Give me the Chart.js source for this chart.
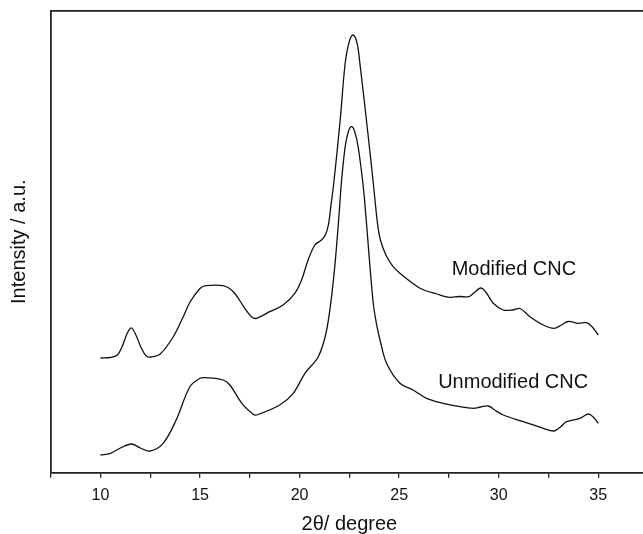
<!DOCTYPE html>
<html>
<head>
<meta charset="utf-8">
<script src="https://cdn.jsdelivr.net/npm/chart.js@4"></script>
<style>
  html, body { margin: 0; padding: 0; background: #fff; overflow: hidden; }
  #wrap { width: 643px; height: 534px; overflow: hidden; }
</style>
</head>
<body>
<div id="wrap">
  <canvas id="xrd" width="656" height="536"></canvas>
</div>
<script>
// 2theta positions and intensities (a.u.)
const modX = [10.0, 10.5, 10.85, 11.1, 11.35, 11.56, 11.8, 12.05, 12.3, 12.55, 13.0, 13.65, 14.15, 14.5, 15.0, 15.3, 16.15, 16.67, 17.25, 17.6, 17.84, 18.5, 19.17, 19.76, 20.1, 20.43, 20.77, 21.1, 21.3, 21.45, 21.58, 21.72, 22.04, 22.29, 22.48, 22.68, 22.88, 23.03, 23.45, 23.7, 23.88, 24.0, 24.15, 24.38, 24.7, 25.04, 26.05, 26.9, 27.55, 28.0, 28.5, 28.75, 29.1, 29.35, 29.73, 30.23, 30.7, 31.07, 31.57, 32.24, 32.78, 33.15, 33.5, 34.0, 34.42, 34.7, 35.0];
const modY = [114.7, 115.2, 117.7, 126.7, 139.7, 144.7, 136.7, 124.7, 116.7, 115.7, 118.7, 135.7, 155.7, 170.7, 184.2, 187.0, 187.0, 181.0, 164.4, 155.7, 154.4, 161.0, 167.7, 179.4, 192.7, 212.7, 227.7, 232.7, 238.0, 248.0, 268.0, 290.0, 352.7, 409.4, 430.0, 437.7, 430.0, 409.4, 336.0, 290.0, 255.0, 238.0, 227.0, 216.0, 206.0, 199.4, 184.4, 178.7, 175.4, 176.2, 176.0, 179.7, 184.7, 180.7, 169.4, 162.7, 162.7, 164.2, 156.0, 147.7, 144.4, 147.7, 151.2, 149.4, 150.0, 145.7, 137.7];

const unmodX = [10.0, 10.5, 11.0, 11.56, 12.0, 12.48, 13.15, 13.8, 14.49, 15.0, 15.25, 16.16, 16.5, 17.1, 17.67, 17.84, 19.0, 19.68, 20.27, 20.94, 21.36, 21.7, 21.95, 22.1, 22.29, 22.45, 22.61, 22.77, 22.94, 23.2, 23.35, 23.7, 23.9, 24.04, 24.37, 25.04, 25.7, 26.38, 27.22, 28.05, 28.72, 29.1, 29.48, 29.8, 30.23, 31.24, 32.24, 32.78, 33.1, 33.41, 34.08, 34.5, 34.75, 35.0];
const unmodY = [17.7, 19.4, 24.7, 28.7, 24.7, 21.7, 29.4, 52.7, 86.0, 94.4, 95.0, 92.7, 87.7, 69.4, 58.4, 57.7, 67.7, 79.4, 99.4, 116.0, 142.7, 192.7, 249.4, 290.0, 326.0, 341.0, 346.0, 341.0, 326.0, 286.0, 252.0, 169.4, 145.0, 132.7, 109.4, 89.4, 82.7, 74.4, 69.4, 66.0, 64.4, 65.7, 66.7, 62.7, 57.7, 51.0, 44.4, 41.7, 45.7, 51.0, 54.4, 58.7, 55.7, 49.4];

const seriesNames = ["Modified CNC", "Unmodified CNC"];
// where the curve names sit, in data units (2theta, intensity)
const nameX = [27.64, 26.96];
const nameY = [197.7, 84.4];

const xTickLabels = [10, 15, 20, 25, 30, 35];

const toPoints = (xs, ys) => xs.map((x, i) => ({ x: x, y: ys[i] }));

const FONT = "'Liberation Sans', Arial, sans-serif";

const curveNames = {
  id: "curveNames",
  afterDatasetsDraw(chart) {
    const { ctx, scales } = chart;
    ctx.save();
    ctx.fillStyle = "#111";
    ctx.font = "20px " + FONT;
    ctx.textBaseline = "alphabetic";
    seriesNames.forEach((name, i) => {
      ctx.fillText(name, scales.x.getPixelForValue(nameX[i]), scales.y.getPixelForValue(nameY[i]));
    });
    ctx.restore();
  }
};

const lineStyle = {
  borderColor: "#111",
  borderWidth: 1.3,
  pointRadius: 0,
  fill: false,
  tension: 0.35
};

new Chart(document.getElementById("xrd"), {
  type: "line",
  data: {
    datasets: [
      Object.assign({ label: seriesNames[0], data: toPoints(modX, modY) }, lineStyle),
      Object.assign({ label: seriesNames[1], data: toPoints(unmodX, unmodY) }, lineStyle)
    ]
  },
  options: {
    responsive: false,
    animation: false,
    layout: { padding: { left: 0, right: 2.3, top: 0, bottom: 0 } },
    plugins: { legend: { display: false }, tooltip: { enabled: false } },
    scales: {
      x: {
        type: "linear",
        position: "bottom",
        min: 7.5,
        max: 37.5,
        afterFit(s) { s.height = 63.3; },
        border: { display: true, color: "#222", width: 1.8 },
        grid: { drawOnChartArea: false, drawTicks: true, tickLength: 5, color: "#222", lineWidth: 1.3 },
        ticks: {
          stepSize: 2.5,
          autoSkip: false,
          maxRotation: 0,
          padding: 8,
          color: "#111",
          font: { family: FONT, size: 16 },
          callback: (v) => (xTickLabels.includes(v) ? String(v) : "")
        },
        title: {
          display: true,
          text: "2θ/ degree",
          color: "#111",
          font: { family: FONT, size: 20 },
          padding: { top: 0, bottom: 0 }
        }
      },
      x2: {
        type: "linear",
        position: "top",
        min: 7.5,
        max: 37.5,
        afterFit(s) { s.height = 10.7; },
        border: { display: true, color: "#222", width: 1.8 },
        grid: { display: false, drawTicks: false },
        ticks: { display: false }
      },
      y: {
        type: "linear",
        position: "left",
        min: 0,
        max: 462,
        afterFit(s) { s.width = 50.7; },
        border: { display: true, color: "#222", width: 1.8 },
        grid: { display: false, drawTicks: false },
        ticks: { display: false },
        title: {
          display: true,
          text: "Intensity / a.u.",
          color: "#111",
          font: { family: FONT, size: 20 },
          padding: { top: 7, bottom: 0 }
        }
      }
    }
  },
  plugins: [curveNames]
});
</script>
</body>
</html>
